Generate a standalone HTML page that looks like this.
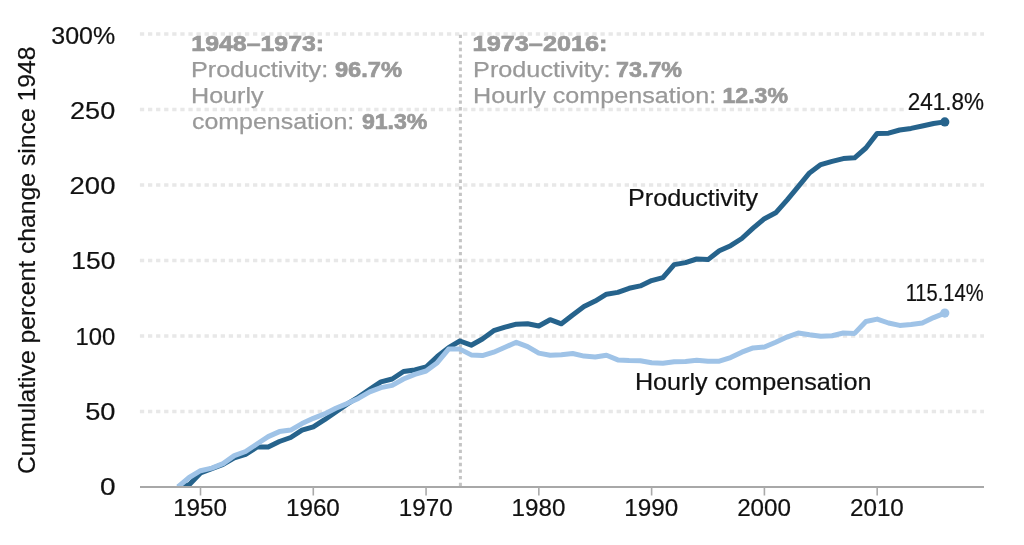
<!DOCTYPE html>
<html><head><meta charset="utf-8"><style>
html,body{margin:0;padding:0;background:#fff;}
svg{display:block;will-change:transform;}
text{font-family:"Liberation Sans",sans-serif;}
.lab{font-size:23.4px;fill:#111;}
.g{stroke:#e8e8e8;stroke-width:3.3;stroke-dasharray:4.3 3.78;}
.tk{stroke:#aaa;stroke-width:1.6;}
.ann{font-size:22.8px;fill:#999;}
.b{font-weight:bold;}
</style></head><body>
<svg width="1024" height="545" viewBox="0 0 1024 545">
<rect width="1024" height="545" fill="#fff"/>
<line x1="139.9" y1="411.50" x2="984" y2="411.50" class="g"/>
<line x1="139.9" y1="336.00" x2="984" y2="336.00" class="g"/>
<line x1="139.9" y1="260.50" x2="984" y2="260.50" class="g"/>
<line x1="139.9" y1="185.00" x2="984" y2="185.00" class="g"/>
<line x1="139.9" y1="109.50" x2="984" y2="109.50" class="g"/>
<line x1="139.9" y1="34.00" x2="984" y2="34.00" class="g"/>

<line x1="460.4" y1="34.65" x2="460.4" y2="487" stroke="#c4c4c4" stroke-width="3" stroke-dasharray="3.3 3.288"/>
<rect x="906" y="92" width="80" height="20" fill="#fff"/>
<text x="191.39" y="50.50" font-size="22.4px" font-weight="bold" fill="#999999" stroke="#999999" stroke-width="0.7" textLength="132.71" lengthAdjust="spacingAndGlyphs">1948–1973:</text>
<text x="190.99" y="76.50" font-size="22.8px" font-weight="normal" fill="#999999" stroke="#999999" stroke-width="0.25" textLength="137.21" lengthAdjust="spacingAndGlyphs">Productivity:</text>
<text x="334.90" y="76.50" font-size="22.4px" font-weight="bold" fill="#999999" stroke="#999999" stroke-width="0.7" textLength="67.13" lengthAdjust="spacingAndGlyphs">96.7%</text>
<text x="191.00" y="103.20" font-size="22.8px" font-weight="normal" fill="#999999" stroke="#999999" stroke-width="0.25" textLength="72.57" lengthAdjust="spacingAndGlyphs">Hourly</text>
<text x="191.91" y="128.60" font-size="22.8px" font-weight="normal" fill="#999999" stroke="#999999" stroke-width="0.25" textLength="162.30" lengthAdjust="spacingAndGlyphs">compensation:</text>
<text x="361.90" y="128.90" font-size="22.4px" font-weight="bold" fill="#999999" stroke="#999999" stroke-width="0.7" textLength="65.52" lengthAdjust="spacingAndGlyphs">91.3%</text>
<text x="472.62" y="50.80" font-size="22.4px" font-weight="bold" fill="#999999" stroke="#999999" stroke-width="0.7" textLength="134.91" lengthAdjust="spacingAndGlyphs">1973–2016:</text>
<text x="473.09" y="77.30" font-size="22.8px" font-weight="normal" fill="#999999" stroke="#999999" stroke-width="0.25" textLength="137.42" lengthAdjust="spacingAndGlyphs">Productivity:</text>
<text x="616.06" y="77.30" font-size="22.4px" font-weight="bold" fill="#999999" stroke="#999999" stroke-width="0.7" textLength="65.96" lengthAdjust="spacingAndGlyphs">73.7%</text>
<text x="473.09" y="103.10" font-size="22.8px" font-weight="normal" fill="#999999" stroke="#999999" stroke-width="0.25" textLength="243.14" lengthAdjust="spacingAndGlyphs">Hourly compensation:</text>
<text x="722.47" y="103.10" font-size="22.4px" font-weight="bold" fill="#999999" stroke="#999999" stroke-width="0.7" textLength="65.45" lengthAdjust="spacingAndGlyphs">12.3%</text>
<text x="628.03" y="205.50" font-size="23.2px" font-weight="normal" fill="#111111" stroke="#111111" stroke-width="0.2" textLength="130.10" lengthAdjust="spacingAndGlyphs">Productivity</text>
<text x="634.93" y="390.30" font-size="23.2px" font-weight="normal" fill="#111111" stroke="#111111" stroke-width="0.2" textLength="236.57" lengthAdjust="spacingAndGlyphs">Hourly compensation</text>
<text x="907.63" y="109.70" font-size="23.2px" font-weight="normal" fill="#111111" stroke="#111111" stroke-width="0.2" textLength="76.31" lengthAdjust="spacingAndGlyphs">241.8%</text>
<text x="905.63" y="301.20" font-size="23.2px" font-weight="normal" fill="#111111" stroke="#111111" stroke-width="0.2" textLength="77.99" lengthAdjust="spacingAndGlyphs">115.14%</text>
<text x="51.32" y="43.70" font-size="23.2px" font-weight="normal" fill="#111111" stroke="#111111" stroke-width="0.2" textLength="63.91" lengthAdjust="spacingAndGlyphs">300%</text>
<text x="70.03" y="119.00" font-size="23.2px" font-weight="normal" fill="#111111" stroke="#111111" stroke-width="0.2" textLength="45.17" lengthAdjust="spacingAndGlyphs">250</text>
<text x="69.62" y="194.20" font-size="23.2px" font-weight="normal" fill="#111111" stroke="#111111" stroke-width="0.2" textLength="45.80" lengthAdjust="spacingAndGlyphs">200</text>
<text x="71.36" y="269.40" font-size="23.2px" font-weight="normal" fill="#111111" stroke="#111111" stroke-width="0.2" textLength="44.02" lengthAdjust="spacingAndGlyphs">150</text>
<text x="75.47" y="344.70" font-size="23.2px" font-weight="normal" fill="#111111" stroke="#111111" stroke-width="0.2" textLength="39.73" lengthAdjust="spacingAndGlyphs">100</text>
<text x="85.23" y="419.90" font-size="23.2px" font-weight="normal" fill="#111111" stroke="#111111" stroke-width="0.2" textLength="30.31" lengthAdjust="spacingAndGlyphs">50</text>
<text x="100.09" y="495.20" font-size="23.2px" font-weight="normal" fill="#111111" stroke="#111111" stroke-width="0.2" textLength="15.60" lengthAdjust="spacingAndGlyphs">0</text>
<text x="173.16" y="515.70" font-size="23.2px" font-weight="normal" fill="#111111" stroke="#111111" stroke-width="0.2" textLength="53.86" lengthAdjust="spacingAndGlyphs">1950</text>
<text x="285.96" y="515.70" font-size="23.2px" font-weight="normal" fill="#111111" stroke="#111111" stroke-width="0.2" textLength="53.86" lengthAdjust="spacingAndGlyphs">1960</text>
<text x="398.76" y="515.70" font-size="23.2px" font-weight="normal" fill="#111111" stroke="#111111" stroke-width="0.2" textLength="53.86" lengthAdjust="spacingAndGlyphs">1970</text>
<text x="511.56" y="515.70" font-size="23.2px" font-weight="normal" fill="#111111" stroke="#111111" stroke-width="0.2" textLength="53.86" lengthAdjust="spacingAndGlyphs">1980</text>
<text x="624.36" y="515.70" font-size="23.2px" font-weight="normal" fill="#111111" stroke="#111111" stroke-width="0.2" textLength="53.86" lengthAdjust="spacingAndGlyphs">1990</text>
<text x="737.16" y="515.70" font-size="23.2px" font-weight="normal" fill="#111111" stroke="#111111" stroke-width="0.2" textLength="53.86" lengthAdjust="spacingAndGlyphs">2000</text>
<text x="849.96" y="515.70" font-size="23.2px" font-weight="normal" fill="#111111" stroke="#111111" stroke-width="0.2" textLength="53.86" lengthAdjust="spacingAndGlyphs">2010</text>

<text transform="translate(35.4,474.01) rotate(-90)" font-size="24.5px" fill="#111" stroke="#111" stroke-width="0.2" textLength="427.59" lengthAdjust="spacingAndGlyphs">Cumulative percent change since 1948</text>
<defs><clipPath id="cp"><rect x="0" y="0" width="1024" height="487"/></clipPath></defs>
<g clip-path="url(#cp)">
<path d="M177.9,487.0 L189.2,484.7 L200.5,473.0 L211.8,468.7 L223.1,464.4 L234.3,457.9 L245.6,454.4 L256.9,447.1 L268.2,447.0 L279.4,441.5 L290.7,437.5 L302.0,430.2 L313.3,426.8 L324.6,419.7 L335.8,412.0 L347.1,404.1 L358.4,397.0 L369.7,389.3 L380.9,381.9 L392.2,379.0 L403.5,371.5 L414.8,370.0 L426.1,367.0 L437.3,356.5 L448.6,347.6 L459.9,341.0 L471.2,345.2 L482.4,339.0 L493.7,330.7 L505.0,327.1 L516.3,324.2 L527.6,323.8 L538.8,326.0 L550.1,319.7 L561.4,323.8 L572.7,315.0 L584.0,306.6 L595.2,301.1 L606.5,294.2 L617.8,292.4 L629.1,288.3 L640.3,285.9 L651.6,280.6 L662.9,277.7 L674.2,264.6 L685.5,262.6 L696.7,259.0 L708.0,259.6 L719.3,250.8 L730.6,245.7 L741.8,238.5 L753.1,228.2 L764.4,218.7 L775.7,212.8 L787.0,200.1 L798.2,186.7 L809.5,172.9 L820.8,164.6 L832.1,161.4 L843.3,158.6 L854.6,157.8 L865.9,148.0 L877.2,133.4 L888.5,133.2 L899.7,130.0 L911.0,128.4 L922.3,126.0 L933.6,123.5 L944.8,121.9" fill="none" stroke="#26638c" stroke-width="5" stroke-linejoin="round"/>
<path d="M177.9,487.0 L189.2,477.5 L200.5,470.7 L211.8,468.1 L223.1,463.6 L234.3,455.6 L245.6,451.5 L256.9,444.0 L268.2,436.6 L279.4,431.6 L290.7,430.1 L302.0,423.6 L313.3,418.3 L324.6,413.9 L335.8,408.3 L347.1,403.6 L358.4,398.4 L369.7,391.9 L380.9,387.6 L392.2,385.4 L403.5,379.0 L414.8,374.4 L426.1,371.0 L437.3,362.7 L448.6,349.1 L459.9,349.1 L471.2,354.9 L482.4,355.6 L493.7,352.2 L505.0,347.3 L516.3,342.3 L527.6,346.6 L538.8,353.1 L550.1,355.2 L561.4,354.7 L572.7,353.5 L584.0,356.1 L595.2,357.0 L606.5,355.3 L617.8,359.9 L629.1,360.5 L640.3,360.8 L651.6,362.7 L662.9,363.2 L674.2,361.8 L685.5,361.4 L696.7,360.3 L708.0,361.2 L719.3,361.2 L730.6,357.6 L741.8,352.2 L753.1,347.9 L764.4,347.0 L775.7,342.3 L787.0,337.1 L798.2,333.0 L809.5,334.8 L820.8,336.2 L832.1,335.7 L843.3,333.0 L854.6,333.4 L865.9,321.5 L877.2,319.1 L888.5,323.0 L899.7,325.4 L911.0,324.4 L922.3,323.0 L933.6,317.6 L944.8,313.1" fill="none" stroke="#9fc3e7" stroke-width="5" stroke-linejoin="round"/>
</g>
<line x1="140" y1="487.0" x2="984" y2="487.0" stroke="#a8a8a8" stroke-width="2.2"/>
<line x1="200.50" y1="487.0" x2="200.50" y2="495.5" class="tk"/>
<line x1="313.28" y1="487.0" x2="313.28" y2="495.5" class="tk"/>
<line x1="426.06" y1="487.0" x2="426.06" y2="495.5" class="tk"/>
<line x1="538.84" y1="487.0" x2="538.84" y2="495.5" class="tk"/>
<line x1="651.62" y1="487.0" x2="651.62" y2="495.5" class="tk"/>
<line x1="764.40" y1="487.0" x2="764.40" y2="495.5" class="tk"/>
<line x1="877.18" y1="487.0" x2="877.18" y2="495.5" class="tk"/>

<circle cx="944.8" cy="121.9" r="4.6" fill="#26638c"/>
<circle cx="944.8" cy="313.1" r="4.6" fill="#9fc3e7"/>
</svg>
</body></html>
